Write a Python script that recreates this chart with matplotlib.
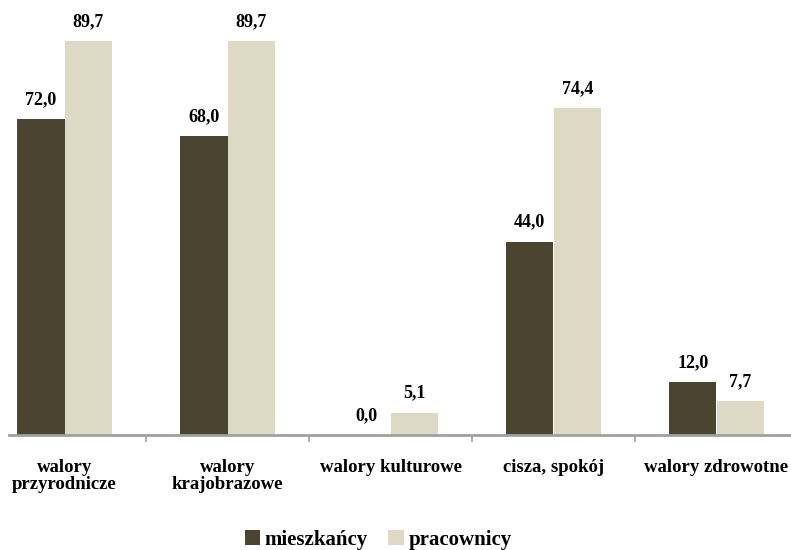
import matplotlib
matplotlib.use("Agg")
import matplotlib.pyplot as plt
import numpy as np

categories = ["walory\nprzyrodnicze", "walory\nkrajobrazowe", "walory kulturowe",
              "cisza, spokój", "walory zdrowotne"]
mieszkancy = [72.0, 68.0, 0.0, 44.0, 12.0]
pracownicy = [89.7, 89.7, 5.1, 74.4, 7.7]
series_names = ["mieszkańcy", "pracownicy"]

DARK = "#4a4430"
LIGHT = "#ddd9c4"
FONT = "Liberation Serif"

fig = plt.figure(figsize=(7.91, 5.5), dpi=100)
W, H = 791, 550
ax = fig.add_axes([9 / W, 115 / H, 782 / W, 435 / H])

x = np.arange(len(categories))
bw = 0.291
b1 = ax.bar(x - bw / 2, mieszkancy, bw, color=DARK, label=series_names[0])
b2 = ax.bar(x + bw / 2, pracownicy, bw, color=LIGHT, label=series_names[1])

for bars, vals in ((b1, mieszkancy), (b2, pracownicy)):
    for rect, v in zip(bars, vals):
        ax.annotate(f"{v:.1f}".replace(".", ","),
                    (rect.get_x() + rect.get_width() / 2, rect.get_height()),
                    xytext=(0, 8), textcoords="offset points",
                    ha="center", va="bottom", fontsize=13,
                    fontfamily=FONT, fontweight="bold", color="black")

ax.set_xlim((9 - 64.5) / 163, (791 - 64.5) / 163)
ax.set_ylim(0, 435 / 4.39)

ax.set_xticks(x)
ax.set_xticklabels(categories, fontsize=13.5, fontfamily=FONT, fontweight="bold",
                   linespacing=1.0)
ax.tick_params(axis="x", which="major", length=0, pad=17)
ax.set_xticks(np.arange(len(categories) - 1) + 0.5, minor=True)
ax.tick_params(axis="x", which="minor", length=5, width=1.2, color="#a0a0a0")
ax.set_yticks([])

for s in ("top", "right", "left"):
    ax.spines[s].set_visible(False)
ax.spines["bottom"].set_color("#a0a0a0")
ax.spines["bottom"].set_linewidth(2)

leg = fig.legend(handles=[b1, b2], labels=series_names, loc="center",
                 bbox_to_anchor=(378 / W, 10 / H), ncol=2, frameon=False,
                 prop={"family": FONT, "weight": "bold", "size": 15},
                 handlelength=0.75, handleheight=0.75, handletextpad=0.2,
                 columnspacing=1.0)

fig.savefig("out.png", dpi=100)
